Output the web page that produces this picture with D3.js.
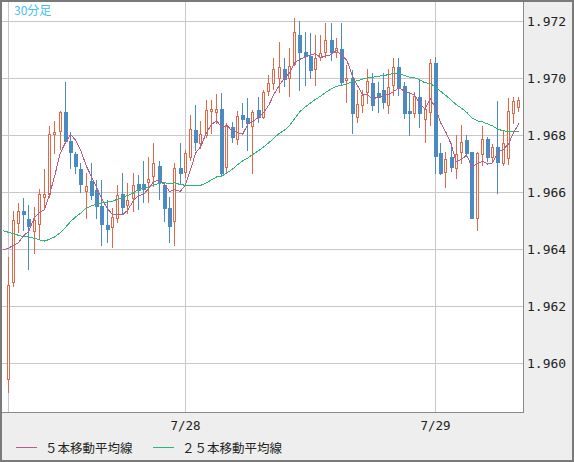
<!DOCTYPE html>
<html><head><meta charset="utf-8">
<script src="https://cdn.jsdelivr.net/npm/d3@7/dist/d3.min.js"></script>
<style>body{margin:0;background:#eeeeee}svg{display:block}</style>
</head><body>
<svg id="c" width="574" height="462"></svg>
<script>
// ---- data (USD/... 30-minute candles) ----
const opens = [1.95943,1.96283,1.96492,1.96533,1.96505,1.96464,1.96487,1.96581,1.96592,1.96802,
1.96815,1.96880,1.96779,1.96733,1.96680,1.96605,1.96639,1.96607,1.96551,1.96484,
1.96476,1.96508,1.96592,1.96554,1.96578,1.96628,1.96628,1.96634,1.96657,1.96691,
1.96625,1.96543,1.96499,1.96685,1.96671,1.96722,1.96818,1.96771,1.96800,1.96885,
1.96880,1.96890,1.96687,1.96827,1.96785,1.96870,1.96861,1.96832,1.96888,1.96862,
1.96955,1.96981,1.97001,1.97030,1.96999,1.97048,1.97151,1.97090,1.97078,1.97032,
1.97075,1.97090,1.97133,1.97092,1.97101,1.96993,1.96999,1.96864,1.96905,1.96952,
1.96981,1.96946,1.96958,1.96905,1.96975,1.97040,1.96972,1.96884,1.96876,1.96932,
1.96856,1.96880,1.97052,1.96736,1.96671,1.96722,1.96683,1.96739,1.96782,1.96741,
1.96508,1.96733,1.96785,1.96722,1.96759,1.96701,1.96718,1.96876,1.96899];
const highs = [1.96373,1.96533,1.96560,1.96580,1.96554,1.96548,1.96611,1.96680,1.96832,1.96850,
1.96884,1.96987,1.96812,1.96741,1.96701,1.96666,1.96701,1.96642,1.96642,1.96572,
1.96543,1.96624,1.96666,1.96631,1.96666,1.96660,1.96710,1.96722,1.96771,1.96710,
1.96636,1.96584,1.96701,1.96771,1.96747,1.96870,1.96905,1.96850,1.96923,1.96923,
1.96944,1.96948,1.96841,1.96847,1.96885,1.96913,1.96931,1.96888,1.96934,1.96958,
1.97011,1.97071,1.97127,1.97071,1.97106,1.97209,1.97200,1.97162,1.97157,1.97151,
1.97151,1.97192,1.97192,1.97139,1.97192,1.97046,1.97028,1.96958,1.96958,1.97030,
1.97017,1.96987,1.97017,1.97030,1.97069,1.97069,1.96987,1.96952,1.96952,1.96995,
1.96923,1.97066,1.97075,1.96771,1.96741,1.96771,1.96800,1.96835,1.96800,1.96741,
1.96741,1.96832,1.96792,1.96768,1.96920,1.96818,1.96929,1.96932,1.96932];
const lows = [1.95899,1.96271,1.96461,1.96467,1.96329,1.96387,1.96436,1.96539,1.96582,1.96736,
1.96751,1.96777,1.96683,1.96666,1.96601,1.96508,1.96575,1.96508,1.96414,1.96426,
1.96408,1.96496,1.96525,1.96525,1.96533,1.96539,1.96566,1.96566,1.96622,1.96574,
1.96499,1.96426,1.96414,1.96631,1.96652,1.96712,1.96747,1.96753,1.96794,1.96808,
1.96841,1.96660,1.96671,1.96774,1.96768,1.96829,1.96747,1.96666,1.96847,1.96860,
1.96940,1.96961,1.96952,1.96973,1.96938,1.97046,1.96958,1.96975,1.97001,1.96975,
1.97063,1.97075,1.97063,1.97075,1.96975,1.96917,1.96806,1.96847,1.96882,1.96911,
1.96888,1.96882,1.96896,1.96876,1.96940,1.96940,1.96859,1.96800,1.96864,1.96829,
1.96777,1.96835,1.96668,1.96663,1.96617,1.96675,1.96648,1.96701,1.96726,1.96508,
1.96467,1.96695,1.96710,1.96706,1.96595,1.96695,1.96698,1.96841,1.96885];
const closes = [1.96274,1.96502,1.96533,1.96524,1.96481,1.96502,1.96592,1.96592,1.96802,1.96809,
1.96880,1.96780,1.96741,1.96692,1.96627,1.96621,1.96590,1.96551,1.96488,1.96469,
1.96511,1.96588,1.96546,1.96571,1.96624,1.96607,1.96610,1.96646,1.96701,1.96636,
1.96543,1.96482,1.96683,1.96666,1.96736,1.96820,1.96777,1.96804,1.96888,1.96891,
1.96890,1.96666,1.96832,1.96792,1.96868,1.96855,1.96841,1.96882,1.96864,1.96950,
1.96981,1.97032,1.97038,1.96996,1.97042,1.97160,1.97092,1.97078,1.97028,1.97069,
1.97087,1.97133,1.97090,1.97104,1.96987,1.96999,1.96876,1.96908,1.96940,1.96990,
1.96905,1.96934,1.96915,1.96970,1.97040,1.96970,1.96878,1.96878,1.96937,1.96878,
1.96890,1.97052,1.96726,1.96666,1.96715,1.96687,1.96732,1.96774,1.96738,1.96510,
1.96736,1.96785,1.96722,1.96759,1.96704,1.96773,1.96884,1.96919,1.96923];
// moving-average values before enough candles are on screen (bars -1 .. n-2)
const ma5Lead = [1.96396,1.96402,1.96412,1.96422,1.96446];
const ma25Lead = [1.96465,1.96459,1.96454,1.96448,1.96443,1.96442,1.96438,1.96432,1.96428,1.96434,
1.96443,1.96457,1.96475,1.96496,1.96513,1.96527,1.96543,1.96551,1.96558,1.96562,
1.96565,1.96567,1.96575,1.96581,1.96588];
const yTicks = [1.960,1.962,1.964,1.966,1.968,1.970,1.972];
const gridIndex = [0,34,82];
const xTickIndex = [34,82];
const xTickLabels = ["7/28","7/29"];
const legendLabels = ["５本移動平均線","２５本移動平均線"];
const periodLabel = "30分足";

// ---- drawing ----
const svg = d3.select("#c");
const P = {x0:2, y0:2, x1:523, y1:412};
const UP = "#e0694a", DOWN = "#4b8bc2", MA5C = "#b35e8c", MA25C = "#2fb47a", GRID = "#c8c8c8";

const x = d3.scaleLinear().domain([0,48]).range([7.5, 7.5+48*5.2125]);
const y = d3.scaleLinear().domain([1.960,1.972]).range([363,21]);

svg.append("rect").attr("x",0).attr("y",0).attr("width",574).attr("height",462).attr("fill","#eeeeee");
svg.append("rect").attr("x",P.x0).attr("y",P.y0).attr("width",P.x1-P.x0).attr("height",P.y1-P.y0).attr("fill","#fff");

svg.append("defs").append("clipPath").attr("id","clip").append("rect")
  .attr("x",P.x0).attr("y",P.y0).attr("width",P.x1-P.x0).attr("height",P.y1-P.y0);

const g = svg.append("g").attr("clip-path","url(#clip)").attr("shape-rendering","crispEdges");

// grid
g.selectAll(".hg").data(yTicks).join("line")
  .attr("x1",P.x0).attr("x2",P.x1)
  .attr("y1",d=>Math.round(y(d))+0.5).attr("y2",d=>Math.round(y(d))+0.5)
  .attr("stroke",GRID).attr("stroke-width",1);
g.selectAll(".vg").data(gridIndex).join("line")
  .attr("x1",d=>Math.round(x(d))+0.5).attr("x2",d=>Math.round(x(d))+0.5)
  .attr("y1",P.y0).attr("y2",P.y1)
  .attr("stroke",GRID).attr("stroke-width",1);

// candles
const bars = closes.map((c,i)=>({i,o:opens[i],h:highs[i],l:lows[i],c}));
const cg = g.append("g");
bars.forEach(b=>{
  const px = Math.round(x(b.i));
  const up = b.c >= b.o;
  const col = up ? UP : DOWN;
  cg.append("line").attr("x1",px+0.5).attr("x2",px+0.5)
    .attr("y1",Math.round(y(b.h))).attr("y2",Math.round(y(b.l))+1)
    .attr("stroke",col).attr("stroke-width",1);
  const top = Math.round(y(Math.max(b.o,b.c)));
  const bot = Math.round(y(Math.min(b.o,b.c)));
  if (up) {
    cg.append("rect").attr("x",px-0.5).attr("y",top+0.5)
      .attr("width",2).attr("height",Math.max(1,bot-top))
      .attr("fill","#fff").attr("stroke",col).attr("stroke-width",1);
  } else {
    cg.append("rect").attr("x",px-1).attr("y",top)
      .attr("width",4).attr("height",Math.max(1,bot-top+1))
      .attr("fill",col);
  }
});

// moving averages
function movingAvg(n, lead){
  const pts = [];
  for (let i=-1;i<closes.length;i++){
    let v;
    if (i < n-1) v = lead[i+1];
    else v = d3.mean(closes.slice(i-n+1,i+1));
    pts.push([i,v]);
  }
  return pts;
}
const line = d3.line().x(d=>x(d[0])+0.5).y(d=>y(d[1]));
g.append("path").datum(movingAvg(25,ma25Lead)).attr("d",line)
  .attr("fill","none").attr("stroke",MA25C).attr("stroke-width",1);
g.append("path").datum(movingAvg(5,ma5Lead)).attr("d",line)
  .attr("fill","none").attr("stroke",MA5C).attr("stroke-width",1);

// plot borders
svg.append("line").attr("x1",P.x1+0.5).attr("x2",P.x1+0.5).attr("y1",P.y0).attr("y2",P.y1+1)
  .attr("stroke","#8a8a8a").attr("shape-rendering","crispEdges");
svg.append("line").attr("x1",P.x0).attr("x2",P.x1+1).attr("y1",P.y1+0.5).attr("y2",P.y1+0.5)
  .attr("stroke","#8a8a8a").attr("shape-rendering","crispEdges");

// period label
svg.append("text").attr("x",14).attr("y",14.5).text(periodLabel)
  .attr("font-family","'Noto Sans CJK JP', sans-serif").attr("font-size",12)
  .attr("fill","#3fbfee");

// y labels
svg.selectAll(".yl").data(yTicks).join("text")
  .attr("x",527).attr("y",d=>y(d)+5)
  .attr("font-family","'DejaVu Sans Mono', monospace").attr("font-size",13)
  .attr("fill","#222").text(d=>d3.format(".3f")(d));

// x labels
svg.selectAll(".xl").data(xTickIndex).join("text")
  .attr("x",d=>Math.round(x(d))+0.5).attr("y",430)
  .attr("text-anchor","middle")
  .attr("font-family","'DejaVu Sans Mono', monospace").attr("font-size",12.5)
  .attr("fill","#222").text((d,i)=>xTickLabels[i]);

// legend
const legX = [16,153], legCol = [MA5C, MA25C];
legendLabels.forEach((t,i)=>{
  svg.append("line").attr("x1",legX[i]).attr("x2",legX[i]+21).attr("y1",447.5).attr("y2",447.5)
    .attr("stroke",legCol[i]).attr("stroke-width",1).attr("shape-rendering","crispEdges");
  svg.append("text").attr("x",legX[i]+29).attr("y",452.5).text(t)
    .attr("font-family","'Noto Sans CJK JP', sans-serif").attr("font-size",12.5)
    .attr("fill","#222");
});

// outer frame
svg.append("rect").attr("x",1).attr("y",1).attr("width",572).attr("height",460)
  .attr("fill","none").attr("stroke","#7a7a7a").attr("stroke-width",2);
</script>
</body></html>
